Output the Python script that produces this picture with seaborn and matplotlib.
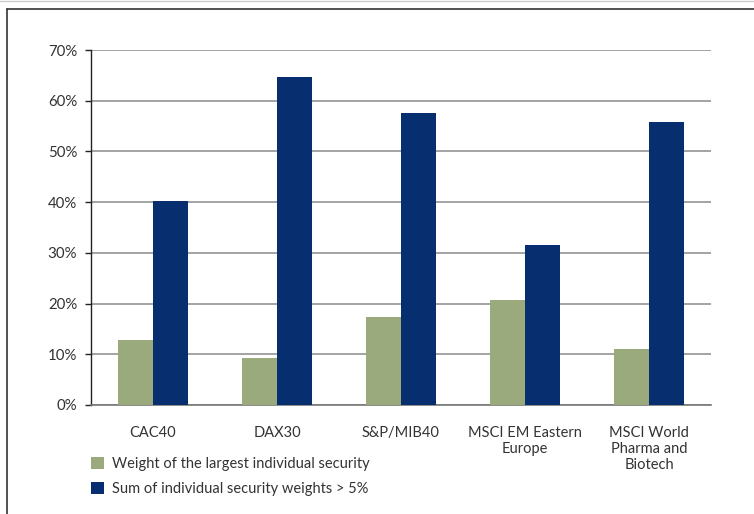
import pandas as pd
import matplotlib
matplotlib.use('Agg')
import matplotlib.pyplot as plt
from matplotlib.lines import Line2D
from matplotlib.ticker import PercentFormatter, FixedLocator
import seaborn as sns

# --- data ---
categories = ['CAC40', 'DAX30', 'S&P/MIB40', 'MSCI EM Eastern\nEurope',
              'MSCI World\nPharma and\nBiotech']
largest_weight = [12.8, 9.3, 17.4, 20.7, 11.0]
sum_above_5 = [40.2, 64.7, 57.6, 31.6, 55.8]
series_names = ['Weight of the largest individual security',
                'Sum of individual security weights > 5%']
colors = ['#9BAA7D', '#072F70']

df = pd.DataFrame({
    'Index': categories * 2,
    'Series': [series_names[0]] * len(categories) + [series_names[1]] * len(categories),
    'Value': largest_weight + sum_above_5,
})

sns.set_style('white')
plt.rcParams['font.family'] = ['Lato', 'DejaVu Sans']
text_col = '#333333'

fig = plt.figure(figsize=(7.54, 5.14), dpi=100)
ax = fig.add_axes([91 / 754, 1 - 405 / 514, 620 / 754, 355 / 514])

sns.barplot(data=df, x='Index', y='Value', hue='Series', palette=colors,
            width=0.57, gap=0, saturation=1, linewidth=0, ax=ax, legend=True, zorder=3)

ax.set_ylim(0, 70)
ax.set_xlim(-0.5, len(categories) - 0.5)
ax.yaxis.set_major_locator(FixedLocator(range(0, 71, 10)))
ax.yaxis.set_major_formatter(PercentFormatter(decimals=0))
ax.grid(axis='y', color='#8a8a8a', linewidth=1.1, zorder=0)
ax.set_axisbelow(True)
ax.set_xlabel('')
ax.set_ylabel('')

for s in ['top', 'right']:
    ax.spines[s].set_visible(False)
ax.spines['left'].set_color('#222222')
ax.spines['left'].set_linewidth(1.0)
ax.spines['bottom'].set_color('#777777')
ax.spines['bottom'].set_linewidth(1.2)

# category boundary ticks on x axis
ax.set_xticks([i + 0.5 for i in range(-1, len(categories))], minor=True)
ax.tick_params(axis='x', which='minor', length=6, width=1, color='#777777', direction='out')
ax.tick_params(axis='x', which='major', length=0, pad=15, labelsize=10.5, labelcolor=text_col)
ax.tick_params(axis='y', length=4, width=1, color='#222222', direction='out',
               left=True, pad=6, labelsize=10.8, labelcolor=text_col)
for lbl in ax.get_xticklabels():
    lbl.set_linespacing(1.2)
    lbl.set_verticalalignment('top')

handles, labels = ax.get_legend_handles_labels()
ax.get_legend().remove()
fig.legend(handles, labels, loc='upper left', bbox_to_anchor=(78 / 754, 1 - 444 / 514),
           frameon=False, fontsize=10.5, handlelength=0.9, handleheight=0.9,
           handletextpad=0.5, labelspacing=0.75, labelcolor=text_col)

# outer frame lines (left and top edge of the panel)
fig.add_artist(Line2D([7 / 754, 7 / 754], [0, 1 - 9 / 514], transform=fig.transFigure,
                      color='#333333', linewidth=1.2))
fig.add_artist(Line2D([7 / 754, 1], [1 - 9 / 514, 1 - 9 / 514], transform=fig.transFigure,
                      color='#333333', linewidth=1.2))
fig.add_artist(Line2D([0, 1], [1 - 0.5 / 514, 1 - 0.5 / 514], transform=fig.transFigure,
                      color='#cccccc', linewidth=1.0))

fig.savefig('out.png', dpi=100)
